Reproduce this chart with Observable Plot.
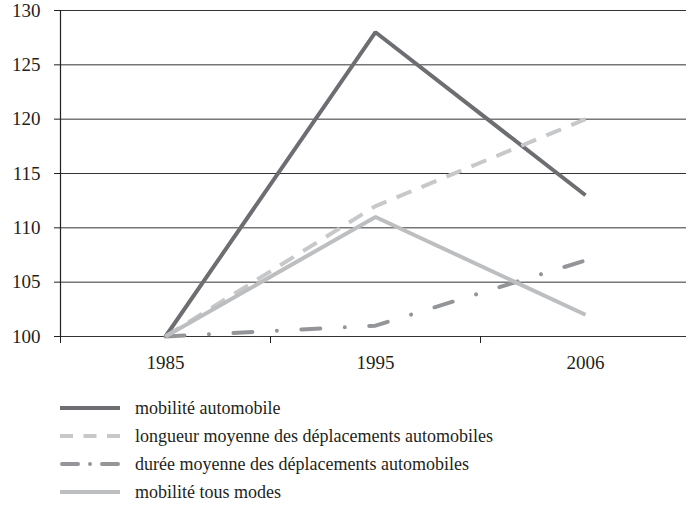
<!DOCTYPE html>
<html>
<head>
<meta charset="utf-8">
<script src="https://cdn.jsdelivr.net/npm/d3@7"></script>
<script src="https://cdn.jsdelivr.net/npm/@observablehq/plot@0.6"></script>
<style>
  body { margin: 0; background: white; color: #231f20; }
  #legend { padding-top: 9px; font-family: "Liberation Serif", "DejaVu Serif", serif; }
  .row { display: flex; align-items: center; height: 28px; }
  .row svg { margin-left: 58px; margin-right: 13px; }
  .row span { font-size: 18px; font-family: "Liberation Serif", serif; }
</style>
</head>
<body>
<div id="chart"></div>
<div id="legend"></div>
<script>
const years = ["1985", "1995", "2006"];
const mobiliteAutomobile = [100, 128, 113];
const longueurMoyenne = [100, 112, 120];
const dureeMoyenne = [100, 101, 107];
const mobiliteTousModes = [100, 111, 102];
const yTicks = [100, 105, 110, 115, 120, 125, 130];

const series = [
  {name: "mobilité automobile", values: mobiliteAutomobile, color: "#6d6e71", dash: null, legendDash: null, cap: "butt", lx1: 2, lx2: 62},
  {name: "longueur moyenne des déplacements automobiles", values: longueurMoyenne, color: "#c7c8ca", dash: "16,11", legendDash: "13,10.5", cap: "butt", lx1: 2, lx2: 62},
  {name: "durée moyenne des déplacements automobiles", values: dureeMoyenne, color: "#939598", dash: "19,24.5,0.01,24.5", legendDash: "16,12,0.01,12,16,100", cap: "round", lx1: 4, lx2: 60},
  {name: "mobilité tous modes", values: mobiliteTousModes, color: "#bcbec0", dash: null, legendDash: null, cap: "butt", lx1: 2, lx2: 62}
];

const lineMarks = series.map(s => Plot.line(
  s.values.map((v, i) => ({i, v})),
  {x: "i", y: "v", stroke: s.color, strokeWidth: 4, strokeDasharray: s.dash || undefined, strokeLinecap: s.cap, strokeLinejoin: "miter"}
));

const plot = Plot.plot({
  width: 686,
  height: 385,
  marginLeft: 60,
  marginRight: 0,
  marginTop: 10,
  marginBottom: 49,
  style: {fontFamily: "Liberation Serif", fontSize: "19px", color: "#231f20", background: "white", overflow: "visible"},
  x: {type: "linear", domain: [-0.5, 2.5], range: [60, 690], label: null},
  y: {domain: [100, 130], label: null},
  marks: [
    Plot.ruleY(yTicks, {stroke: "#333", strokeWidth: 1}),
    Plot.axisY(yTicks, {tickSize: 6, tickPadding: 14, stroke: "#231f20", fontSize: 19, label: null}),
    Plot.axisX([-0.5, 0.5, 1.5, 2.5], {tickSize: 7, tickFormat: () => "", stroke: "#231f20", label: null}),
    Plot.axisX([0, 1, 2], {tickSize: 0, tickPadding: 19, tickFormat: i => years[i], fontSize: 19, label: null}),
    Plot.ruleX([-0.5], {y1: 100, y2: 130, stroke: "#231f20", strokeWidth: 1.2}),
    ...lineMarks
  ]
});
document.getElementById("chart").appendChild(plot);

const legend = document.getElementById("legend");
for (const s of series) {
  const row = document.createElement("div");
  row.className = "row";
  row.innerHTML = `<svg width="64" height="8"><line x1="${s.lx1}" x2="${s.lx2}" y1="4" y2="4" stroke="${s.color}" stroke-width="4" ${s.legendDash ? `stroke-dasharray="${s.legendDash}"` : ""} stroke-linecap="${s.cap}"/></svg><span>${s.name}</span>`;
  legend.appendChild(row);
}
</script>
</body>
</html>
